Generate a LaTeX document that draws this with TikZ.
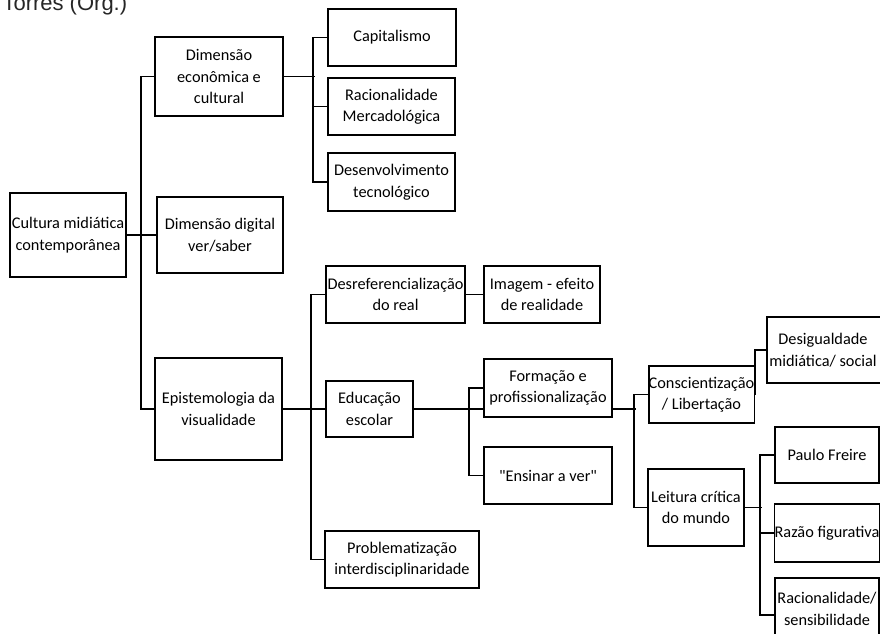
\documentclass[tikz,border=0pt]{standalone}
\usepackage{fontspec}
\newfontfamily\bxfont{Carlito}
\newfontfamily\headfont{Liberation Sans}
\begin{document}
\begin{tikzpicture}[x=1pt,y=-1pt,
  bx/.style={draw=black, line width=1.6pt, inner sep=0pt, align=center,
    font=\bxfont\fontsize{16.3}{21.5}\selectfont, text=black},
  cn/.style={line width=1.5pt, draw=black}]
\useasboundingbox (0,0) rectangle (880,633);
\node[anchor=base west, font=\headfont\fontsize{22}{26}\selectfont, text=black!85] (hdr) at (-1,10.5) {Torres (Org.)};
% boxes
\node[bx, minimum width=116pt, minimum height=84pt] (cult) at (68,235) {Cultura midiática\\contemporânea};
\node[bx, minimum width=128pt, minimum height=79pt] (econ) at (219,76.5) {Dimensão\\econômica e\\cultural};
\node[bx, minimum width=126pt, minimum height=76pt] (digi) at (220,235) {Dimensão digital\\ver/saber};
\node[bx, minimum width=127pt, minimum height=102pt] (epis) at (218.5,409) {Epistemologia da\\visualidade};
\node[bx, minimum width=128pt, minimum height=57pt] (cap) at (392,37.5) {Capitalismo};
\node[bx, minimum width=127pt, minimum height=57pt] (rac) at (391.5,106.5) {Racionalidade\\Mercadológica};
\node[bx, minimum width=127pt, minimum height=58pt] (des) at (391.5,182) {Desenvolvimento\\tecnológico};
\node[bx, minimum width=139pt, minimum height=57pt] (dref) at (395.5,294.5) {Desreferencialização\\do real};
\node[bx, minimum width=87pt, minimum height=56pt] (edu) at (369.5,409) {Educação\\escolar};
\node[bx, minimum width=154pt, minimum height=57pt] (prob) at (402,559.5) {Problematização\\interdisciplinaridade};
\node[bx, minimum width=116pt, minimum height=57pt] (img) at (542,294.5) {Imagem - efeito\\de realidade};
\node[bx, minimum width=128pt, minimum height=58pt] (form) at (548,388) {Formação e\\profissionalização};
\node[bx, minimum width=128pt, minimum height=57pt] (ens) at (548,475.5) {"Ensinar a ver"};
\node[bx, minimum width=105pt, minimum height=57pt] (consc) at (701.5,394.5) {Conscientização\\/ Libertação};
\node[bx, minimum width=96pt, minimum height=77pt] (leit) at (696,507.5) {Leitura crítica\\do mundo};
\node[bx, minimum width=118pt, minimum height=66pt] (desig) at (826,350) {\hspace*{-6pt}Desigualdade\\\hspace*{-6pt}midiática/ social};
\node[bx, minimum width=104pt, minimum height=56pt] (paulo) at (827,455) {Paulo Freire};
\node[bx, minimum width=104pt, minimum height=58pt] (razao) at (827,533) {Razão figurativa};
\node[bx, minimum width=104pt, minimum height=62pt] (racs) at (827,609) {Racionalidade/\\sensibilidade};
% connectors
\draw[cn] (cult.east) -- (cult.east -| digi.west);
\draw[cn] (econ.west) -- ++(-13,0) |- (epis.west);
\draw[cn] (econ.east) -- ++(31,0);
\draw[cn] (cap.west) -- ++(-14,0) |- (des.west);
\draw[cn] (rac.west) -- ++(-14,0);
\draw[cn] (epis.east) -- (edu.west);
\draw[cn] (dref.west) -- ++(-14,0) |- (prob.west);
\draw[cn] (dref.east) -- (img.west);
\draw[cn] (edu.east) -- (edu.east -| form.west);
\draw[cn] (form.west) -- ++(-14,0) |- (ens.west);
\draw[cn] (form.east |- edu.east) -- ++(23,0);
\draw[cn] (consc.west) -- ++(-14,0) |- (leit.west);
\draw[cn] (consc.east) |- (desig.west);
\draw[cn] (leit.east) -- ++(17,0);
\draw[cn] (paulo.west) -- ++(-14,0) |- ([yshift=-6pt]racs.west);
\draw[cn] (razao.west) -- ++(-14,0);
\end{tikzpicture}
\end{document}
